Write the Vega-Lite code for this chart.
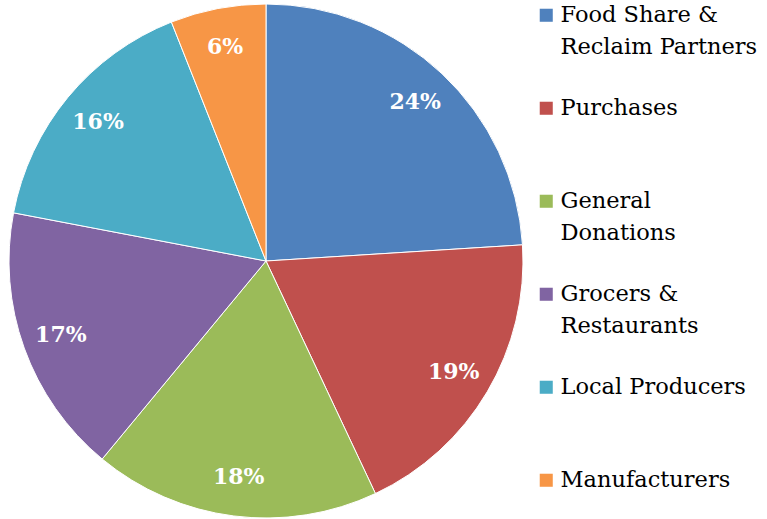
{
  "$schema": "https://vega.github.io/schema/vega-lite/v6.json",
  "width": 532,
  "height": 522,
  "padding": 0,
  "autosize": {"type": "pad"},
  "background": "white",
  "data": {"values": [
    {"cat": "Food Share &|Reclaim Partners", "pct": 24, "lab": "24%", "ord": 1},
    {"cat": "Purchases", "pct": 19, "lab": "19%", "ord": 2},
    {"cat": "General|Donations", "pct": 18, "lab": "18%", "ord": 3},
    {"cat": "Grocers &|Restaurants", "pct": 17, "lab": "17%", "ord": 4},
    {"cat": "Local Producers", "pct": 16, "lab": "16%", "ord": 5},
    {"cat": "Manufacturers", "pct": 6, "lab": "6%", "ord": 6}
  ]},
  "encoding": {
    "theta": {"field": "pct", "type": "quantitative", "stack": true},
    "order": {"field": "ord", "type": "quantitative"},
    "color": {
      "field": "cat", "type": "nominal",
      "scale": {
        "domain": ["Food Share &|Reclaim Partners", "Purchases", "General|Donations", "Grocers &|Restaurants", "Local Producers", "Manufacturers"],
        "range": ["#4F81BD", "#C0504D", "#9BBB59", "#8064A2", "#4BACC6", "#F79646"]
      },
      "legend": {
        "title": null,
        "orient": "right",
        "offset": -1,
        "columns": 1,
        "gridAlign": "all",
        "symbolType": "square",
        "symbolSize": 170,
        "symbolStrokeWidth": 0,
        "labelExpr": "split(datum.label, '|')",
        "labelFont": "DejaVu Serif",
        "labelFontSize": 22.5,
        "labelColor": "black",
        "labelLimit": 300,
        "labelOffset": 3,
        "rowPadding": 38,
        "padding": 4
      }
    }
  },
  "layer": [
    {"mark": {"type": "arc", "outerRadius": 257, "stroke": "white", "strokeWidth": 1}},
    {"mark": {"type": "text", "radius": 218, "font": "DejaVu Serif", "fontSize": 22, "fontWeight": "bold", "fill": "white"},
     "encoding": {"text": {"field": "lab", "type": "nominal"}, "detail": {"field": "cat"}}}
  ],
  "config": {
    "view": {"stroke": null},
    "style": {"guide-label": {"lineHeight": 32}}
  }
}
